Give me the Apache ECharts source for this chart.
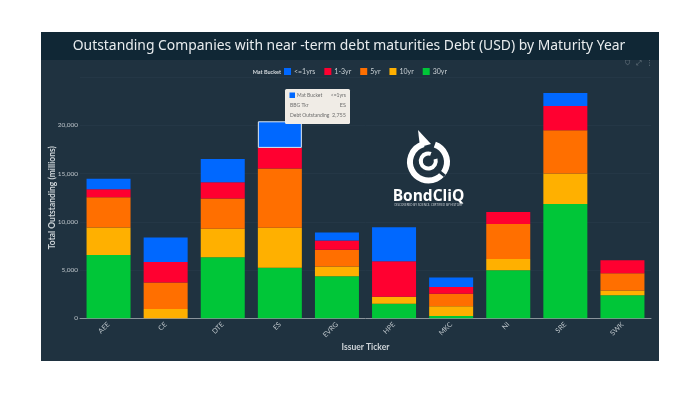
<!DOCTYPE html>
<html>
<head>
<meta charset="utf-8">
<style>html,body{margin:0;padding:0;background:#fff}#c{width:700px;height:394px}</style>
<script src="https://cdn.jsdelivr.net/npm/echarts@6/dist/echarts.min.js"></script>
</head>
<body>
<div id="c"></div>
<script>
const tickers = ['AEE','CE','DTE','ES','EVRG','HPE','MKC','NI','SRE','SWK'];
const bucketNames = ['<=1yrs','1-3yr','5yr','10yr','30yr'];
const bucketColors = ['#0068ff','#ff0030','#ff6f00','#ffb000','#00c638'];
const lte1yr = [1100,2520,2420,2755,830,3525,970,0,1350,0];
const yr1to3 = [830,2140,1690,2145,935,3660,690,1240,2520,1345];
const yr5    = [3145,2730,3110,6120,1760,0,1310,3630,4490,1795];
const yr10   = [2835,970,2970,4145,1005,725,1005,1170,3145,485];
const yr30   = [6560,0,6320,5245,4350,1520,240,4975,11845,2385];
const tipRows = [['BBG Tkr','ES'],['Debt Outstanding','2,755']];

const txt = '#c9d0d4';
const chart = echarts.init(document.getElementById('c'), null, {renderer:'canvas'});
const stackOrder = [
  [bucketNames[4], yr30, bucketColors[4]],
  [bucketNames[3], yr10, bucketColors[3]],
  [bucketNames[2], yr5, bucketColors[2]],
  [bucketNames[1], yr1to3, bucketColors[1]],
  [bucketNames[0], lte1yr, bucketColors[0]]
];
const series = stackOrder.map(([name, vals, color]) => ({
  name, type:'bar', stack:'t', barWidth:44, z:3,
  itemStyle:{color},
  emphasis:{disabled:true},
  data: vals.map((v,i) => (name === bucketNames[0] && tickers[i] === 'ES')
    ? {value:v, itemStyle:{color, borderColor:'#dfe8f2', borderWidth:1}} : v)
}));
const logoStroke = {stroke:'#fff', fill:'none', lineCap:'butt'};
const arc = (cx,cy,r,a,b,w) => ({type:'arc', z:2, shape:{cx,cy,r,startAngle:a*Math.PI/180,endAngle:b*Math.PI/180,clockwise:true}, style:{...logoStroke, lineWidth:w}});
const t = (x,y,text,o) => ({type:'text', z:o.z||10, x, y, style:{text, fill:o.fill||txt, font:o.font, align:o.align||'left', verticalAlign:'middle'}});

chart.setOption({
  animation:false,
  backgroundColor:'#ffffff',
  grid:{left:80, right:49, top:77, height:241.3},
  legend:{
    top:68, left:284, padding:0, itemWidth:7, itemHeight:7, itemGap:9, icon:'rect',
    data:bucketNames,
    textStyle:{color:'#c9d0d4', fontSize:7, fontFamily:'Lato', padding:[0,0,0,-2]}
  },
  xAxis:{
    type:'category', data:tickers,
    name:'Issuer Ticker', nameLocation:'middle', nameGap:24, nameMoveOverlap:false,
    nameTextStyle:{color:'#cfd5d9', fontSize:8.5, fontWeight:'bold', fontFamily:'Lato'},
    axisLine:{lineStyle:{color:'#8a949b', width:1}},
    axisTick:{alignWithLabel:true, length:2, lineStyle:{color:'#8a949b'}},
    axisLabel:{color:'#bcc4c9', fontSize:7, rotate:45, fontFamily:'Lato', margin:5}
  },
  yAxis:{
    type:'value', min:0, max:25000, interval:5000,
    name:'Total Outstanding (millions)', nameLocation:'middle', nameGap:23, nameMoveOverlap:false,
    nameTextStyle:{color:'#cfd5d9', fontSize:8.5, fontWeight:'bold', fontFamily:'Lato'},
    axisLine:{show:false},
    axisTick:{show:false},
    splitLine:{lineStyle:{color:'#243746', width:1}},
    axisLabel:{color:'#bcc4c9', fontSize:6.5, fontFamily:'Lato', margin:2,
      formatter:v=>v.toLocaleString('en-US'), showMaxLabel:false}
  },
  series,
  graphic:[
    {type:'rect', z:-10, silent:true, shape:{x:41,y:32,width:618,height:329}, style:{fill:'#1f3240'}},
    {type:'rect', z:-9, silent:true, shape:{x:41,y:32,width:618,height:28}, style:{fill:'#102735'}},
    t(349,46,'Outstanding Companies with near -term debt maturities Debt (USD) by Maturity Year',{fill:'#e8ecee',font:'13.9px "Noto Sans"',align:'center'}),
    t(281,72.5,'Mat Bucket',{fill:'#d5dade',font:'bold 5.5px Lato',align:'right'}),
    // modebar
    t(625,63.5,'⛉',{fill:'#76838c',font:'7px "DejaVu Sans"'}),
    t(636,63.5,'⤢',{fill:'#76838c',font:'7px "DejaVu Sans"'}),
    t(646,63.5,'⋮',{fill:'#76838c',font:'7px "DejaVu Sans"'}),
    // logo
    arc(428.5,162,18.5,-70,-105+360,6),
    arc(428.3,161,7.5,-15,290,4),
    {type:'polygon', z:2, shape:{points:[[418,130],[431,144],[420,147]]}, style:{fill:'#fff'}},
    {type:'rect', z:2, shape:{x:438,y:172,width:8,height:3}, rotation:-0.7, originX:442, originY:173, style:{fill:'#1f3240'}},
    t(428.5,196.5,'BondCliQ',{fill:'#fff',font:'bold 15.5px "Open Sans"',align:'center',z:2}),
    t(428.5,205.5,'DISCOVERED BY SCIENCE. CERTIFIED BY HISTORY',{fill:'#d8dde0',font:'3px "Open Sans"',align:'center',z:2}),
    // tooltip
    {type:'rect', z:9, shape:{x:285,y:89,width:65,height:35,r:1.5}, style:{fill:'#f0ece6'}},
    {type:'rect', z:10, shape:{x:289.5,y:92.5,width:5.5,height:5.5}, style:{fill:bucketColors[0]}},
    t(297,95.5,'Mat Bucket',{fill:'#6d6d6d',font:'5px Lato'}),
    t(346,95.5,bucketNames[0],{fill:'#6d6d6d',font:'5px Lato',align:'right'}),
    t(290,105,tipRows[0][0],{fill:'#6d6d6d',font:'5px Lato'}),
    t(346,105,tipRows[0][1],{fill:'#6d6d6d',font:'5.5px Lato',align:'right'}),
    t(290,115.5,tipRows[1][0],{fill:'#6d6d6d',font:'5px Lato'}),
    t(346,115.5,tipRows[1][1],{fill:'#6d6d6d',font:'5.5px Lato',align:'right'})
  ]
});
</script>
</body>
</html>
